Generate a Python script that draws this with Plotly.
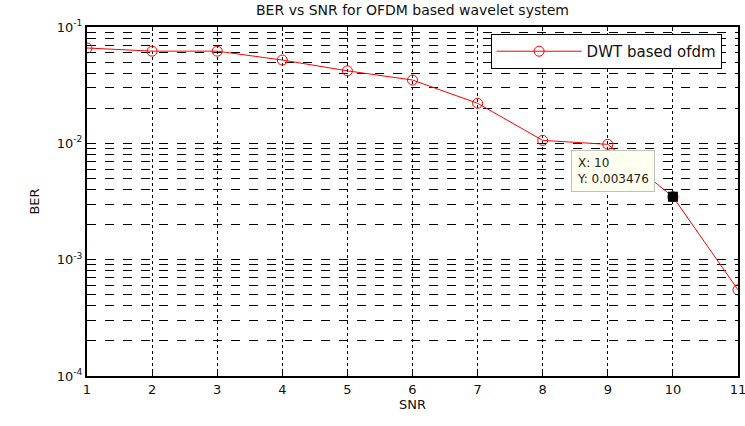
import plotly.graph_objects as go
import math

snr = [1, 2, 3, 4, 5, 6, 7, 8, 9, 10, 11]
ber = [0.066, 0.062, 0.062, 0.052, 0.042, 0.035, 0.0221, 0.0106, 0.0098, 0.003476, 0.00055]
series_name = "DWT based ofdm"
tip_x = 10
tip_y = 0.003476

y_major = [1e-4, 1e-3, 1e-2, 1e-1]
y_major_text = ["10<sup>-4</sup>", "10<sup>-3</sup>", "10<sup>-2</sup>", "10<sup>-1</sup>"]
y_minor = [m * 10.0 ** e for e in (-4, -3, -2) for m in range(2, 10)]

font = "DejaVu Sans, Verdana, sans-serif"

fig = go.Figure()
fig.add_trace(go.Scatter(
    x=snr, y=ber, mode="lines+markers", name=series_name,
    line=dict(color="#ff0000", width=1),
    marker=dict(symbol="circle-open", size=10, color="#ff0000", line=dict(width=1)),
))
fig.add_trace(go.Scatter(
    x=[tip_x], y=[tip_y], mode="markers", showlegend=False,
    marker=dict(symbol="square", size=10, color="black"),
))

fig.add_annotation(
    x=tip_x, y=math.log10(tip_y), xref="x", yref="y",
    text="X: 10<br>Y: 0.003476", showarrow=False, align="left",
    xshift=-60, yshift=26,
    bgcolor="#fffff0", bordercolor="#c0c0c0", borderwidth=1, borderpad=5,
    font=dict(family=font, size=12, color="#222222"),
)

fig.update_layout(
    width=745, height=426,
    margin=dict(l=87, r=7, t=27, b=50),
    paper_bgcolor="white", plot_bgcolor="white",
    title=dict(text="BER vs SNR for OFDM based wavelet system", x=0.5, xref="paper",
               y=0.988, yanchor="top", font=dict(family=font, size=14, color="#111111")),
    font=dict(family=font, size=13, color="#111111"),
    legend=dict(x=0.62, y=0.98, xanchor="left", yanchor="top", bgcolor="white",
                bordercolor="black", borderwidth=1, itemwidth=85,
                font=dict(family=font, size=15)),
    xaxis=dict(
        title=dict(text="SNR", standoff=3, font=dict(size=13)),
        automargin=False, ticklabeloverflow="allow",
        range=[1, 11], tickvals=snr, ticks="inside", ticklen=4, tickcolor="black",
        showline=True, linecolor="black", linewidth=2, mirror="ticks",
        showgrid=True, gridcolor="black", griddash="dot", gridwidth=1, zeroline=False,
    ),
    yaxis=dict(
        title=dict(text="BER", standoff=14, font=dict(size=13)),
        automargin=False, ticklabeloverflow="allow",
        type="log", range=[-4, -1], tickvals=y_major, ticktext=y_major_text,
        ticks="inside", ticklen=4, tickcolor="black",
        showline=True, linecolor="black", linewidth=2, mirror="ticks",
        showgrid=True, gridcolor="black", griddash="dash", gridwidth=1, zeroline=False,
        minor=dict(tickvals=y_minor, showgrid=True, gridcolor="black", griddash="dash",
                   gridwidth=1, ticks="inside", ticklen=2, tickcolor="black"),
    ),
)

fig.write_html("out.html")
